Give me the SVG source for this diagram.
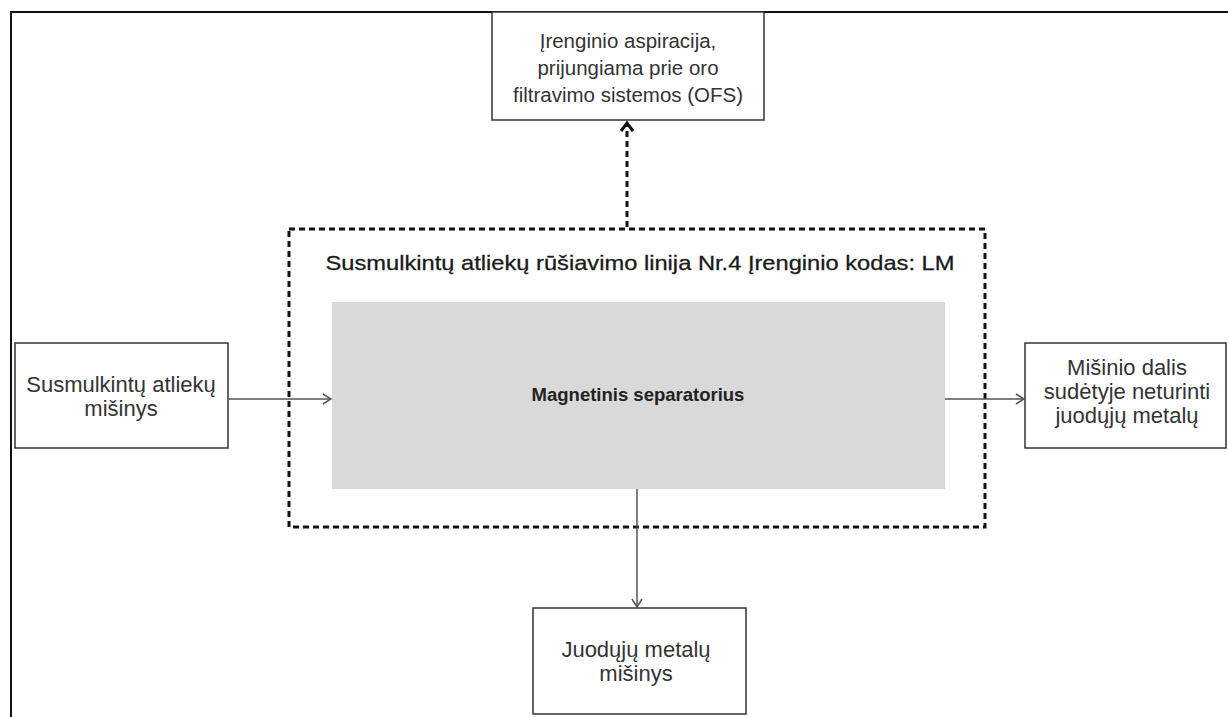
<svg xmlns="http://www.w3.org/2000/svg" width="1228" height="717" viewBox="0 0 1228 717">
<style>
.box{fill:#fff;stroke:#333;stroke-width:1.5}
.t{font-family:"Liberation Sans",Arial,sans-serif;font-size:22px;fill:#333;text-anchor:middle}
.s{font-size:20.5px}
.b{font-family:"Liberation Sans",Arial,sans-serif;font-size:18.5px;font-weight:bold;fill:#222;text-anchor:middle}
.title{font-family:"Liberation Sans Narrow","Liberation Sans",Arial,sans-serif;font-size:21px;fill:#1a1a1a;stroke:#1a1a1a;stroke-width:0.3;text-anchor:middle}
.c{stroke:#555;stroke-width:1.5;fill:none}
</style>
<defs>
<marker id="ah" markerWidth="12" markerHeight="12" refX="10" refY="6" orient="auto" markerUnits="userSpaceOnUse">
<path d="M2,1 L10,6 L2,11" fill="none" stroke="#555" stroke-width="1.5"/>
</marker>
<marker id="ahd" markerWidth="14" markerHeight="14" refX="11" refY="7" orient="auto" markerUnits="userSpaceOnUse">
<path d="M3,1 L11,7 L3,13" fill="none" stroke="#111" stroke-width="3"/>
</marker>
</defs>
<rect width="1228" height="717" fill="#fff"/>
<g id="frame">
<path d="M11,717 L11,12 L1228,12" fill="none" stroke="#111" stroke-width="2"/>
</g>
<g id="line-container">
<rect x="289" y="229" width="696" height="298" fill="none" stroke="#111" stroke-width="3" stroke-dasharray="6,4"/>
<text class="title" x="640" y="270" textLength="629" lengthAdjust="spacingAndGlyphs">Susmulkintų atliekų rūšiavimo linija Nr.4 Įrenginio kodas: LM</text>
</g>
<g id="separator">
<rect x="332" y="302" width="613" height="187" fill="#d9d9d9"/>
<text class="b" x="638" y="401">Magnetinis separatorius</text>
</g>
<g id="aspiration">
<rect class="box" x="492" y="12" width="272" height="108"/>
<text class="t s" x="628" y="48">Įrenginio aspiracija,</text>
<text class="t s" x="628" y="75">prijungiama prie oro</text>
<text class="t s" x="628" y="102">filtravimo sistemos (OFS)</text>
</g>
<g id="input">
<rect class="box" x="15" y="343" width="213" height="105"/>
<text class="t" x="121" y="392">Susmulkintų atliekų</text>
<text class="t" x="121" y="416">mišinys</text>
</g>
<g id="output-right">
<rect class="box" x="1025" y="343" width="201" height="105"/>
<text class="t" x="1127" y="375">Mišinio dalis</text>
<text class="t" x="1127" y="399">sudėtyje neturinti</text>
<text class="t" x="1127" y="423">juodųjų metalų</text>
</g>
<g id="output-bottom">
<rect class="box" x="533" y="608" width="213" height="106"/>
<text class="t" x="636" y="657">Juodųjų metalų</text>
<text class="t" x="636" y="681">mišinys</text>
</g>
<g id="connectors">
<line class="c" x1="228" y1="399" x2="331" y2="399" marker-end="url(#ah)"/>
<line class="c" x1="945" y1="399" x2="1024" y2="399" marker-end="url(#ah)"/>
<line class="c" x1="637" y1="489" x2="637" y2="607" marker-end="url(#ah)"/>
<line x1="627" y1="227" x2="627" y2="123" stroke="#111" stroke-width="3" stroke-dasharray="6,4" marker-end="url(#ahd)"/>
</g>
</svg>
